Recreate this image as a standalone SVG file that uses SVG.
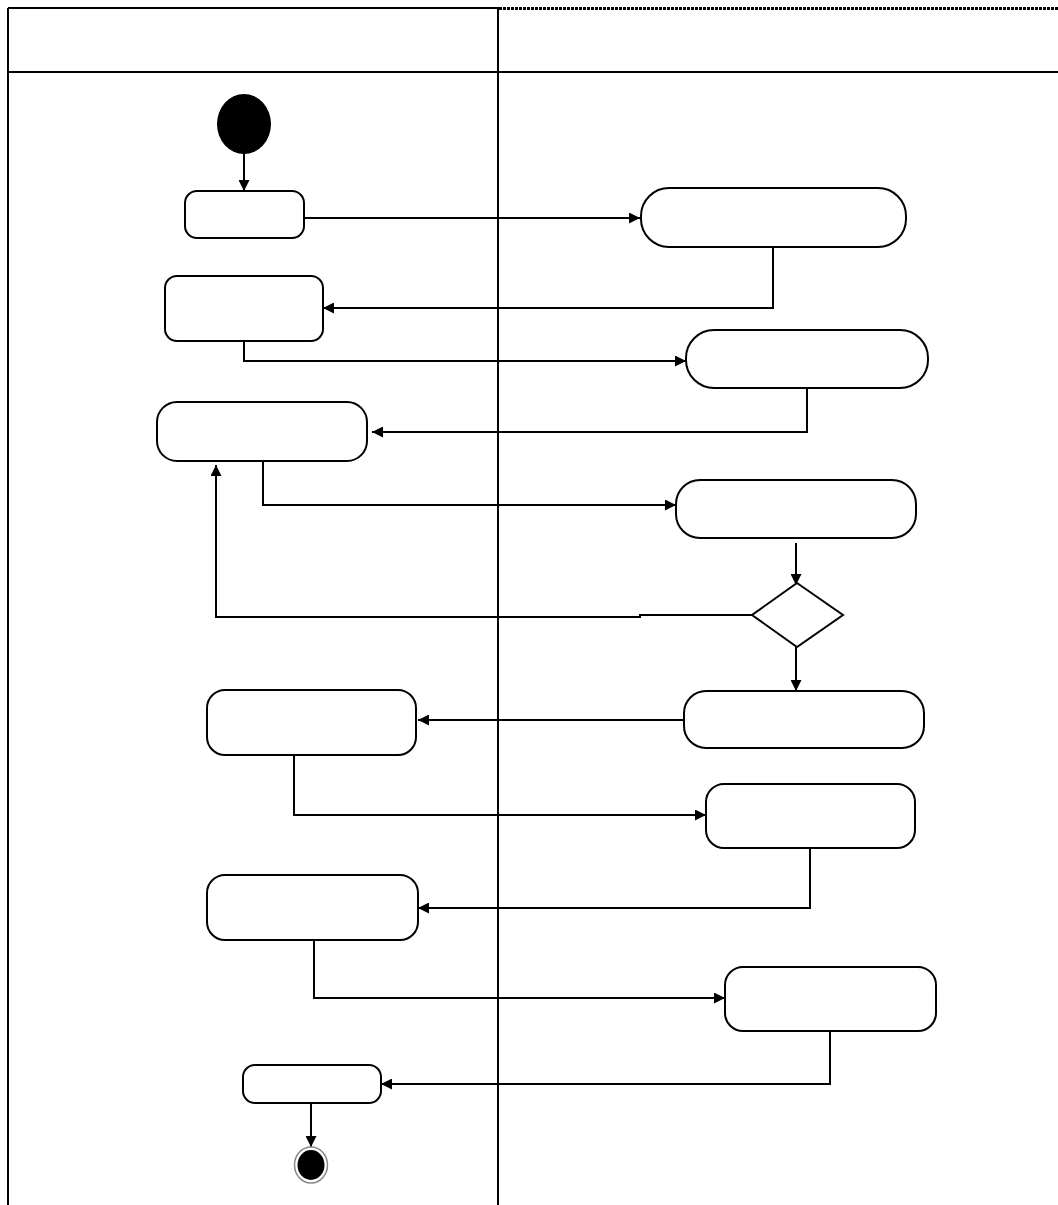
<svg xmlns="http://www.w3.org/2000/svg" width="1058" height="1205" viewBox="0 0 1058 1205">
<style>
.frame{stroke:#000;stroke-width:2;fill:none}
.node{fill:#fff;stroke:#000;stroke-width:2}
.conn{fill:none;stroke:#000;stroke-width:2;marker-end:url(#arr)}
</style>
<defs>
<marker id="arr" viewBox="0 0 10 10" refX="10" refY="5" markerWidth="11" markerHeight="11" markerUnits="userSpaceOnUse" orient="auto">
<path d="M0,0 L10,5 L0,10 z" fill="#000"/>
</marker>
</defs>
<rect width="1058" height="1205" fill="#fff"/>
<g id="swimlanes">
<line class="frame" x1="8" y1="8" x2="499" y2="8"/>
<line x1="499" y1="8.5" x2="1058" y2="8.5" stroke="#000" stroke-width="3" stroke-dasharray="3,1"/>
<line class="frame" x1="8" y1="72" x2="1058" y2="72"/>
<line class="frame" x1="8" y1="8" x2="8" y2="1205"/>
<line class="frame" x1="498" y1="8" x2="498" y2="1205"/>
</g>
<g id="connectors">
<path class="conn" d="M244,154 V191"/>
<path class="conn" d="M304,218 H640"/>
<path class="conn" d="M773,247 V308 H323"/>
<path class="conn" d="M244,341 V361 H686"/>
<path class="conn" d="M807,388 V432 H372"/>
<path class="conn" d="M263,461 V505 H676"/>
<path class="conn" d="M796,543 V585"/>
<path class="conn" d="M752,615 H640 V617 H216 V465"/>
<path class="conn" d="M796,647 V691"/>
<path class="conn" d="M684,720 H418"/>
<path class="conn" d="M294,755 V815 H706"/>
<path class="conn" d="M810,848 V908 H418"/>
<path class="conn" d="M314,940 V998 H725"/>
<path class="conn" d="M830,1031 V1084 H381"/>
<path class="conn" d="M311,1103 V1147"/>
</g>
<g id="start"><ellipse cx="244" cy="124" rx="27" ry="30" fill="#000"/></g>
<g id="n1"><rect class="node" x="185" y="191" width="119" height="47" rx="12"/></g>
<g id="r1"><rect class="node" x="641" y="188" width="265" height="59" rx="28"/></g>
<g id="l2"><rect class="node" x="165" y="276" width="158" height="65" rx="12"/></g>
<g id="r2"><rect class="node" x="686" y="330" width="242" height="58" rx="28"/></g>
<g id="l3"><rect class="node" x="157" y="402" width="210" height="59" rx="20"/></g>
<g id="r3"><rect class="node" x="676" y="480" width="240" height="58" rx="24"/></g>
<g id="decision"><polygon class="node" points="797,583 843,615 797,647 752,615"/></g>
<g id="r4"><rect class="node" x="684" y="691" width="240" height="57" rx="22"/></g>
<g id="l4"><rect class="node" x="207" y="690" width="209" height="65" rx="18"/></g>
<g id="r5"><rect class="node" x="706" y="784" width="209" height="64" rx="18"/></g>
<g id="l5"><rect class="node" x="207" y="875" width="211" height="65" rx="18"/></g>
<g id="r6"><rect class="node" x="725" y="967" width="211" height="64" rx="18"/></g>
<g id="l6"><rect class="node" x="243" y="1065" width="138" height="38" rx="12"/></g>
<g id="end"><ellipse cx="311" cy="1165" rx="16.5" ry="18" fill="#fff" stroke="#888" stroke-width="1.5"/><ellipse cx="311" cy="1165" rx="13.5" ry="15" fill="#000"/></g>
</svg>
